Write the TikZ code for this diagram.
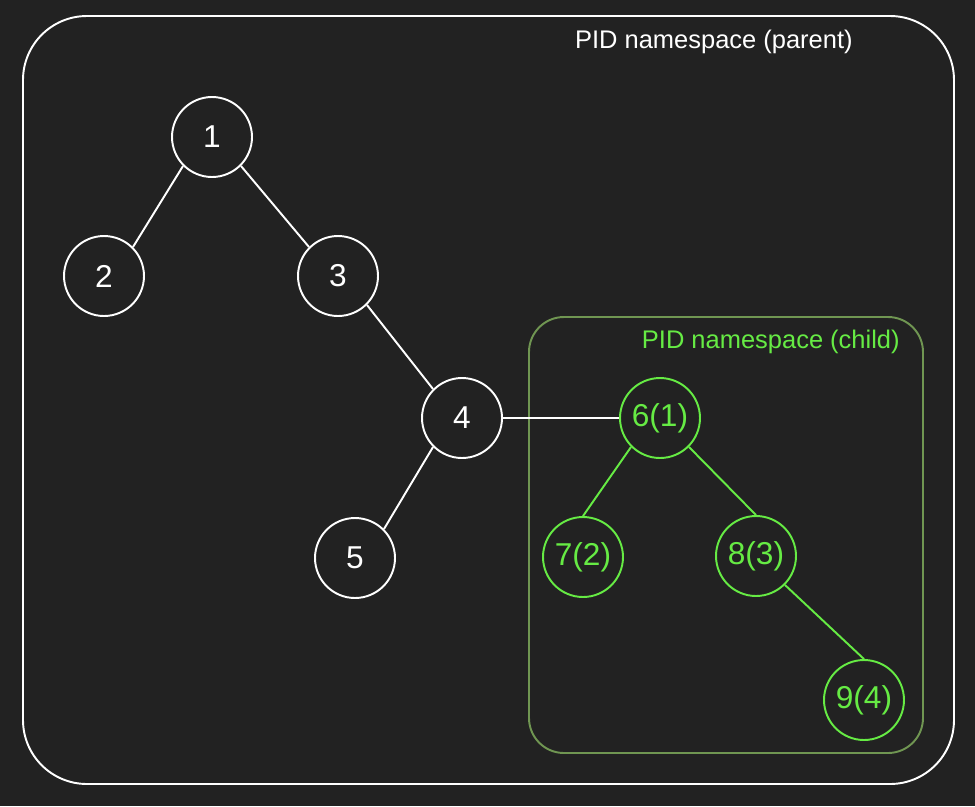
\documentclass[tikz,border=0pt]{standalone}
\usepackage{fontspec}
\setmainfont{Liberation Sans}
\usepackage{xcolor}
\usepackage{tikz}
\usetikzlibrary{positioning,calc}

\definecolor{bgdark}{RGB}{34,34,34}
\definecolor{pidgreen}{RGB}{102,235,68}
\definecolor{boxgreen}{RGB}{112,150,82}

\tikzset{
  proc/.style={circle, draw=white, line width=1.1pt, minimum size=1.6cm, inner sep=0pt,
    text=white, font=\fontsize{18}{21}\selectfont},
  childproc/.style={proc, draw=pidgreen, text=pidgreen},
  link/.style={white, line width=1.1pt},
  childlink/.style={pidgreen, line width=1.1pt},
  nslabel/.style={anchor=east, inner sep=0pt, font=\fontsize{14.5}{17}\selectfont}
}

\begin{document}
\begin{tikzpicture}[x=0.02cm, y=-0.02cm]
  % Background
  \fill[bgdark] (0,0) rectangle (975,806);
  \useasboundingbox (0,0) rectangle (975,806);

  % Parent namespace
  \draw[white, line width=1.1pt, rounded corners=1.28cm] (23,16) rectangle (954,784);
  \node[nslabel, text=white] (parentlbl) at (853,42) {PID namespace (parent)};

  % Child namespace
  \draw[boxgreen, line width=1.1pt, rounded corners=0.7cm] (529,317) rectangle (923,753);
  \node[nslabel, text=pidgreen] (childlbl) at (900,342) {PID namespace (child)};

  % Parent processes
  \node[proc] (p1) at (212,137) {1};
  \node[proc] (p2) at (104,276) {2};
  \node[proc] (p3) at (338,276) {3};
  \node[proc] (p4) at (462,418) {4};
  \node[proc] (p5) at (355,558) {5};

  % Child processes
  \node[childproc] (c1) at (660,418) {6(1)};
  \node[childproc] (c2) at (583,557) {7(2)};
  \node[childproc] (c3) at (756,556) {8(3)};
  \node[childproc] (c4) at (864,700) {9(4)};

  % Links
  \draw[link] (p1.south west) -- (p2.north east);
  \draw[link] (p1.south east) -- (p3.north west);
  \draw[link] (p3.south east) -- (p4.north west);
  \draw[link] (p4.south west) -- (p5.north east);
  \draw[link] (p4.east) -- (c1.west);
  \draw[childlink] (c1.south west) -- (c2.north);
  \draw[childlink] (c1.south east) -- (c3.north);
  \draw[childlink] (c3.south east) -- (c4.north);
\end{tikzpicture}
\end{document}
